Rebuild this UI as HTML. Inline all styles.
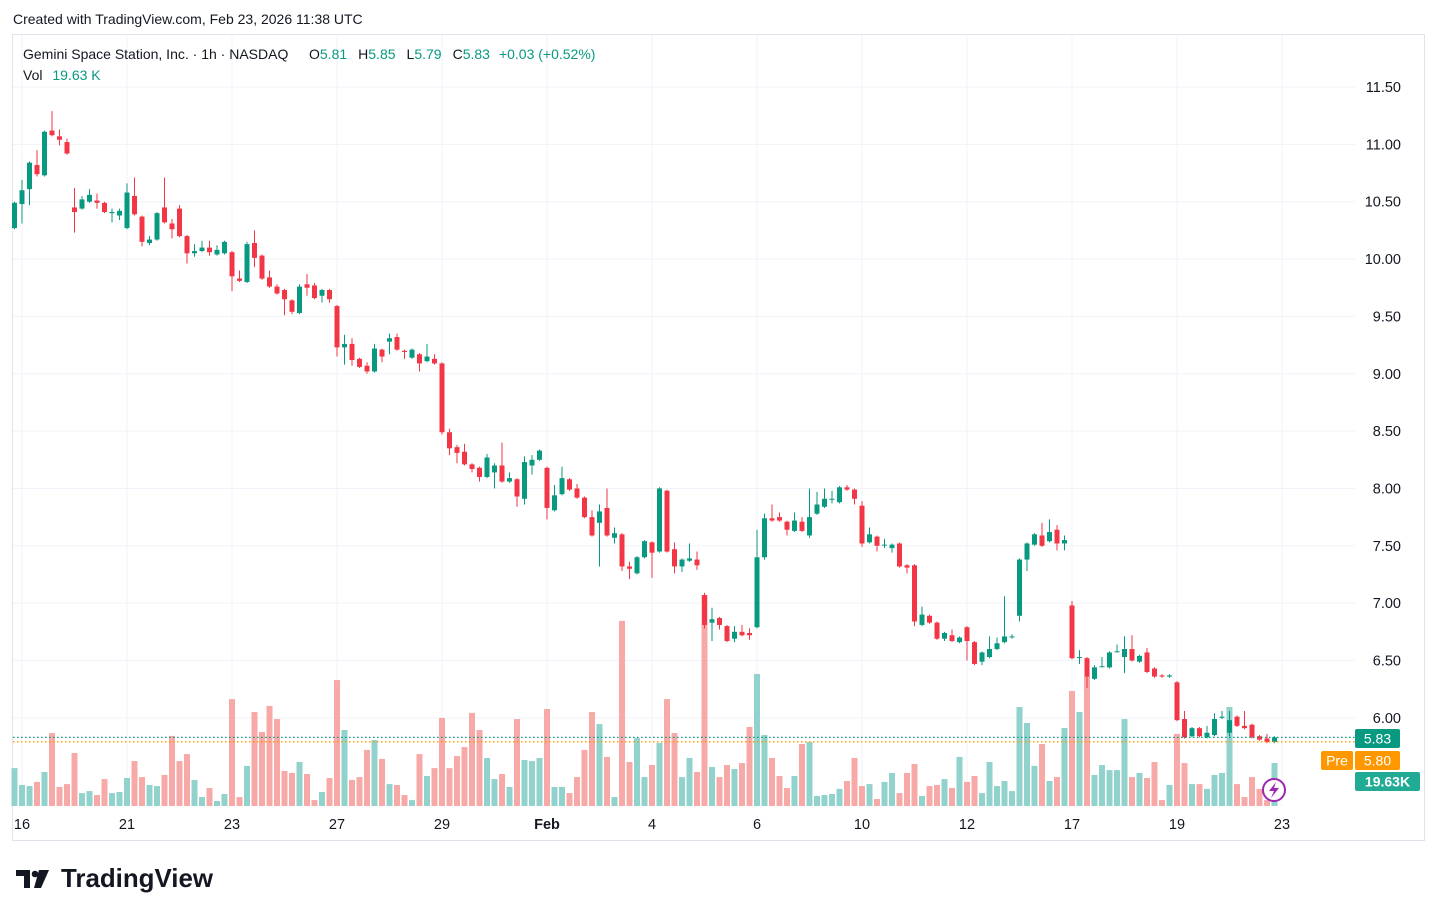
<!DOCTYPE html>
<html><head><meta charset="utf-8">
<style>
html,body{margin:0;padding:0;background:#fff;width:1438px;height:916px;overflow:hidden;font-family:"Liberation Sans",sans-serif;}
svg text{font-family:"Liberation Sans",sans-serif;}
</style></head>
<body>
<svg id="chart" width="1438" height="916" xmlns="http://www.w3.org/2000/svg">
<text x="13" y="24" font-size="14" fill="#131722">Created with TradingView.com, Feb 23, 2026 11:38 UTC</text>
<rect x="12.5" y="34.5" width="1412" height="806" fill="none" stroke="#e0e3eb"/>
<g id="grid"></g>
<g id="vol"></g>
<g id="candles"></g>
<g id="yaxis"></g>
<g id="xaxis"></g>
<g font-size="14">
<text x="23" y="59" fill="#131722">Gemini Space Station, Inc. · 1h · NASDAQ</text>
<text x="309" y="59"><tspan fill="#131722">O</tspan><tspan fill="#089981">5.81</tspan><tspan fill="#131722" dx="11">H</tspan><tspan fill="#089981">5.85</tspan><tspan fill="#131722" dx="11">L</tspan><tspan fill="#089981">5.79</tspan><tspan fill="#131722" dx="11">C</tspan><tspan fill="#089981">5.83</tspan><tspan fill="#089981" dx="9">+0.03 (+0.52%)</tspan></text>
<text x="23" y="80" fill="#131722">Vol <tspan fill="#089981" dx="6">19.63 K</tspan></text>
</g>
<g id="labels"></g>
<g>
<circle cx="1274" cy="790" r="11" fill="#fff" stroke="#9c27b0" stroke-width="2"/>
<path d="M1276 782 L1269 791 L1274 791 L1271 798 L1279 788 L1274 788 Z" fill="#9c27b0"/>
</g>
<g>
<path d="M16 870 h14 v18 h-6 v-12 h-8 z" fill="#131722"/>
<circle cx="35" cy="874" r="3.3" fill="#131722"/>
<path d="M39 870 h10 l-8 18 h-7 z" fill="#131722"/>
<text x="61" y="887" font-size="26" font-weight="bold" fill="#131722" textLength="152" lengthAdjust="spacingAndGlyphs">TradingView</text>
</g>
</svg>
<script>
const opens=[10.27,10.48,10.61,10.82,10.73,11.12,11.07,11.02,10.45,10.44,10.50,10.51,10.49,10.40,10.38,10.27,10.55,10.37,10.14,10.17,10.45,10.31,10.44,10.20,10.05,10.07,10.10,10.04,10.05,10.06,9.83,9.80,10.14,10.03,9.84,9.76,9.73,9.64,9.53,9.78,9.77,9.68,9.73,9.59,9.23,9.26,9.13,9.07,9.02,9.21,9.28,9.32,9.20,9.14,9.17,9.11,9.13,9.09,8.49,8.36,8.32,8.21,8.18,8.10,8.14,8.20,8.06,8.08,7.91,8.20,8.25,8.18,7.81,7.95,8.08,8.00,7.92,7.75,7.70,7.83,7.57,7.60,7.32,7.26,7.40,7.53,7.45,7.98,7.47,7.32,7.37,7.38,7.07,6.83,6.87,6.80,6.69,6.75,6.74,6.79,7.40,7.74,7.75,7.71,7.63,7.71,7.59,7.78,7.84,7.91,7.88,8.01,7.99,7.85,7.53,7.58,7.51,7.48,7.52,7.33,7.33,6.81,6.89,6.83,6.69,6.72,6.66,6.79,6.66,6.49,6.53,6.60,6.66,6.71,6.89,7.38,7.51,7.59,7.54,7.64,7.52,6.98,6.53,6.52,6.34,6.45,6.44,6.58,6.53,6.60,6.49,6.57,6.43,6.37,6.36,6.31,5.99,5.84,5.91,5.83,5.85,6.00,5.87,6.01,5.93,5.94,5.84,5.82,5.79];
const closes=[10.49,10.60,10.84,10.74,11.11,11.08,11.04,10.92,10.41,10.52,10.56,10.49,10.41,10.41,10.42,10.58,10.39,10.15,10.17,10.40,10.32,10.26,10.20,10.05,10.07,10.10,10.06,10.08,10.15,9.85,9.81,10.13,10.01,9.83,9.76,9.70,9.65,9.54,9.76,9.75,9.66,9.73,9.65,9.23,9.26,9.12,9.06,9.02,9.22,9.15,9.31,9.21,9.19,9.21,9.09,9.15,9.09,8.49,8.35,8.31,8.21,8.17,8.10,8.27,8.20,8.06,8.09,7.93,8.23,8.25,8.33,7.83,7.94,8.09,7.99,7.92,7.75,7.59,7.80,7.59,7.61,7.32,7.30,7.40,7.54,7.44,8.00,7.45,7.32,7.38,7.39,7.33,6.81,6.86,6.81,6.67,6.75,6.72,6.72,7.40,7.74,7.72,7.72,7.64,7.72,7.63,7.75,7.86,7.91,7.91,8.01,7.99,7.91,7.52,7.60,7.50,7.51,7.51,7.32,7.31,6.84,6.90,6.83,6.69,6.74,6.67,6.70,6.67,6.47,6.57,6.60,6.65,6.71,6.71,7.38,7.52,7.60,7.50,7.62,7.52,7.55,6.52,6.53,6.36,6.44,6.45,6.57,6.58,6.60,6.50,6.54,6.40,6.36,6.36,6.37,5.98,5.83,5.91,5.84,5.87,5.99,6.01,5.98,5.93,5.91,5.83,5.81,5.79,5.83];
const highs=[10.50,10.69,10.85,10.95,11.12,11.29,11.13,11.05,10.62,10.55,10.61,10.57,10.50,10.44,10.44,10.66,10.71,10.38,10.20,10.41,10.71,10.35,10.47,10.21,10.13,10.16,10.16,10.12,10.16,10.07,9.90,10.15,10.25,10.04,9.90,9.78,9.74,9.65,9.78,9.87,9.79,9.74,9.74,9.60,9.34,9.31,9.14,9.10,9.26,9.22,9.35,9.35,9.21,9.22,9.18,9.26,9.17,9.10,8.52,8.38,8.39,8.22,8.19,8.30,8.22,8.40,8.14,8.09,8.28,8.29,8.34,8.19,8.03,8.19,8.09,8.04,7.93,7.81,7.86,8.00,7.66,7.61,7.36,7.41,7.55,7.54,8.01,7.99,7.53,7.39,7.52,7.45,7.09,6.96,6.88,6.81,6.80,6.81,6.78,7.64,7.78,7.86,7.79,7.72,7.79,7.75,8.00,7.97,8.00,7.98,8.02,8.03,8.00,7.89,7.66,7.59,7.56,7.52,7.53,7.34,7.34,6.97,6.90,6.84,6.75,6.77,6.71,6.80,6.67,6.58,6.71,6.70,7.06,6.73,7.39,7.53,7.61,7.70,7.73,7.68,7.59,7.02,6.59,6.53,6.46,6.53,6.58,6.64,6.71,6.72,6.55,6.61,6.44,6.38,6.38,6.32,6.06,5.92,5.92,5.93,6.04,6.06,6.06,6.02,6.06,5.95,5.85,5.86,5.84];
const lows=[10.26,10.31,10.47,10.72,10.72,11.07,10.99,10.91,10.23,10.43,10.49,10.44,10.40,10.32,10.34,10.26,10.38,10.11,10.12,10.16,10.31,10.18,10.19,9.96,10.02,10.06,10.03,10.03,10.04,9.72,9.80,9.79,9.93,9.82,9.75,9.69,9.51,9.52,9.52,9.68,9.65,9.62,9.62,9.15,9.08,9.07,9.05,9.00,9.01,9.10,9.17,9.20,9.13,9.13,9.02,9.10,9.08,8.47,8.29,8.22,8.20,8.14,8.06,8.09,8.00,8.05,8.05,7.84,7.86,8.12,8.24,7.73,7.80,7.94,7.98,7.91,7.74,7.58,7.32,7.58,7.52,7.28,7.21,7.25,7.39,7.22,7.44,7.44,7.26,7.27,7.36,7.29,6.78,6.67,6.77,6.66,6.66,6.71,6.68,6.78,7.38,7.71,7.71,7.59,7.62,7.62,7.57,7.77,7.83,7.87,7.87,7.98,7.86,7.49,7.52,7.45,7.48,7.44,7.31,7.26,6.80,6.80,6.82,6.68,6.67,6.66,6.65,6.50,6.46,6.46,6.52,6.59,6.65,6.69,6.84,7.28,7.50,7.49,7.53,7.46,7.46,6.51,6.47,6.26,6.33,6.44,6.43,6.57,6.39,6.49,6.48,6.39,6.35,6.35,6.35,5.97,5.82,5.83,5.83,5.82,5.84,5.99,5.84,5.92,5.90,5.82,5.80,5.78,5.78];
const volumesK=[17.3,9.6,9.1,11.0,15.5,33.3,8.7,10.0,24.2,5.9,6.8,5.0,12.3,5.9,6.4,12.8,20.5,13.2,9.6,9.1,14.2,32.0,20.5,23.7,11.9,4.1,8.2,2.3,5.5,48.8,4.1,18.3,42.9,33.8,45.7,39.7,16.0,15.1,20.1,14.6,2.7,6.4,12.8,57.5,34.7,
11.9,13.2,25.6,30.1,21.5,10.0,9.6,5.0,2.7,23.7,13.7,17.3,40.2,17.3,22.8,26.9,42.5,34.7,21.9,12.3,14.6,8.7,39.7,21.0,20.5,21.9,44.3,8.7,8.7,5.9,13.2,25.6,42.9,37.4,22.4,4.1,84.5,20.1,31.0,13.2,18.7,28.8,48.8,33.3,
13.2,21.9,15.5,96.3,17.8,13.2,18.7,16.9,19.6,36.1,60.3,32.4,21.9,13.7,8.2,13.7,28.3,29.2,4.6,5.0,5.5,7.8,11.4,21.9,9.1,10.0,3.2,11.0,15.1,5.9,15.1,19.2,4.6,9.1,9.6,12.3,8.2,22.4,11.0,13.7,5.9,20.1,9.1,11.4,
6.8,45.2,37.9,18.3,28.3,11.4,13.2,35.6,52.5,42.9,59.3,14.2,18.7,16.4,16.4,39.7,13.2,15.1,12.8,20.1,2.7,9.6,32.9,19.6,10.0,10.0,7.8,14.2,15.1,45.2,10.0,4.1,13.2,7.8,2.7,19.63];
const priceTicks=[11.5,11.0,10.5,10.0,9.5,9.0,8.5,8.0,7.5,7.0,6.5,6.0];
const timeLabels=["16","21","23","27","29","Feb","4","6","10","12","17","19","23"];
const labelBarIndex=[1,15,29,43,57,71,85,99,113,127,141,155,169];
const lastPrice=5.83, prePrice=5.80, lastVolK=19.63;

const NS="http://www.w3.org/2000/svg";
const xOf=i=>14.5+7.5*i;
const yOf=p=>87+(11.5-p)*114.7;
const volBase=806, volPxPerK=43/19.63;
const yVol=v=>volBase-v*volPxPerK;
function mk(tag,attrs,parent){const e=document.createElementNS(NS,tag);for(const k in attrs)e.setAttribute(k,attrs[k]);parent.appendChild(e);return e;}
const grid=document.getElementById('grid'),vol=document.getElementById('vol'),cg=document.getElementById('candles'),ya=document.getElementById('yaxis'),xa=document.getElementById('xaxis'),lab=document.getElementById('labels');

priceTicks.forEach(p=>{
  const l=mk('line',{x1:13,x2:1355,y1:yOf(p),y2:yOf(p),stroke:'#f0f3fa','stroke-width':1},grid);
  
  
  const t=mk('text',{x:1401,y:yOf(p)+5,'font-size':14.5,fill:'#131722','text-anchor':'end'},ya);
  t.textContent=p.toFixed(2);
  
  
});
timeLabels.forEach((s,k)=>{
  const x=xOf(labelBarIndex[k]);
  const l=mk('line',{x1:x,x2:x,y1:35,y2:806,stroke:'#f0f3fa','stroke-width':1},grid);
  
  
  const t=mk('text',{x:x,y:829,'font-size':14.5,fill:'#131722','text-anchor':'middle','font-weight':s==='Feb'?'bold':'normal'},xa);
  t.textContent=s;
  
  
});
volumesK.forEach((v,i)=>{
  const up=closes[i]>=opens[i];
  const r=mk('rect',{x:xOf(i)-3,y:yVol(v),width:6,height:volBase-yVol(v),fill:up?'#92d2cc':'#f7a9a7'},vol);
  
  
});
opens.forEach((o,i)=>{
  const c=closes[i],up=c>=o,col=up?'#089981':'#f23645',x=xOf(i);
  const g=mk('g',{},cg);
  
  
  mk('line',{x1:x,x2:x,y1:yOf(highs[i]),y2:yOf(lows[i]),stroke:col,'stroke-width':1},g);
  const top=yOf(Math.max(o,c)),bot=yOf(Math.min(o,c));
  mk('rect',{x:x-2.5,y:top,width:5,height:Math.max(1,bot-top),fill:col},g);
});
const l1=mk('line',{x1:13,x2:1355,y1:yOf(lastPrice),y2:yOf(lastPrice),stroke:'#089981','stroke-width':1.3,'stroke-dasharray':'1.5 2.5'},lab);


const l2=mk('line',{x1:13,x2:1355,y1:yOf(prePrice)+1,y2:yOf(prePrice)+1,stroke:'#ff9800','stroke-width':1.3,'stroke-dasharray':'1.5 2.5'},lab);


function tag(x,y,w,h,bg,txt,name,bold){
  const g=mk('g',{},lab);
  
  
  mk('rect',{x:x,y:y,width:w,height:h,fill:bg,rx:2},g);
  const t=mk('text',{x:x+w/2,y:y+h/2+5,'font-size':14,fill:'#fff','text-anchor':'middle','font-weight':bold?'bold':'normal'},g);
  t.textContent=txt;
}
tag(1355,729,45,19,'#089981',lastPrice.toFixed(2),'last-price-label');
tag(1321,751,32,19,'#ff9800','Pre','pre-market-tag');
tag(1355,751,45,19,'#ff9800',prePrice.toFixed(2),'pre-market-price-label');
tag(1355,772,65,19,'#22ab94',lastVolK.toFixed(2)+'K','last-volume-label',true);
</script>
</body></html>
